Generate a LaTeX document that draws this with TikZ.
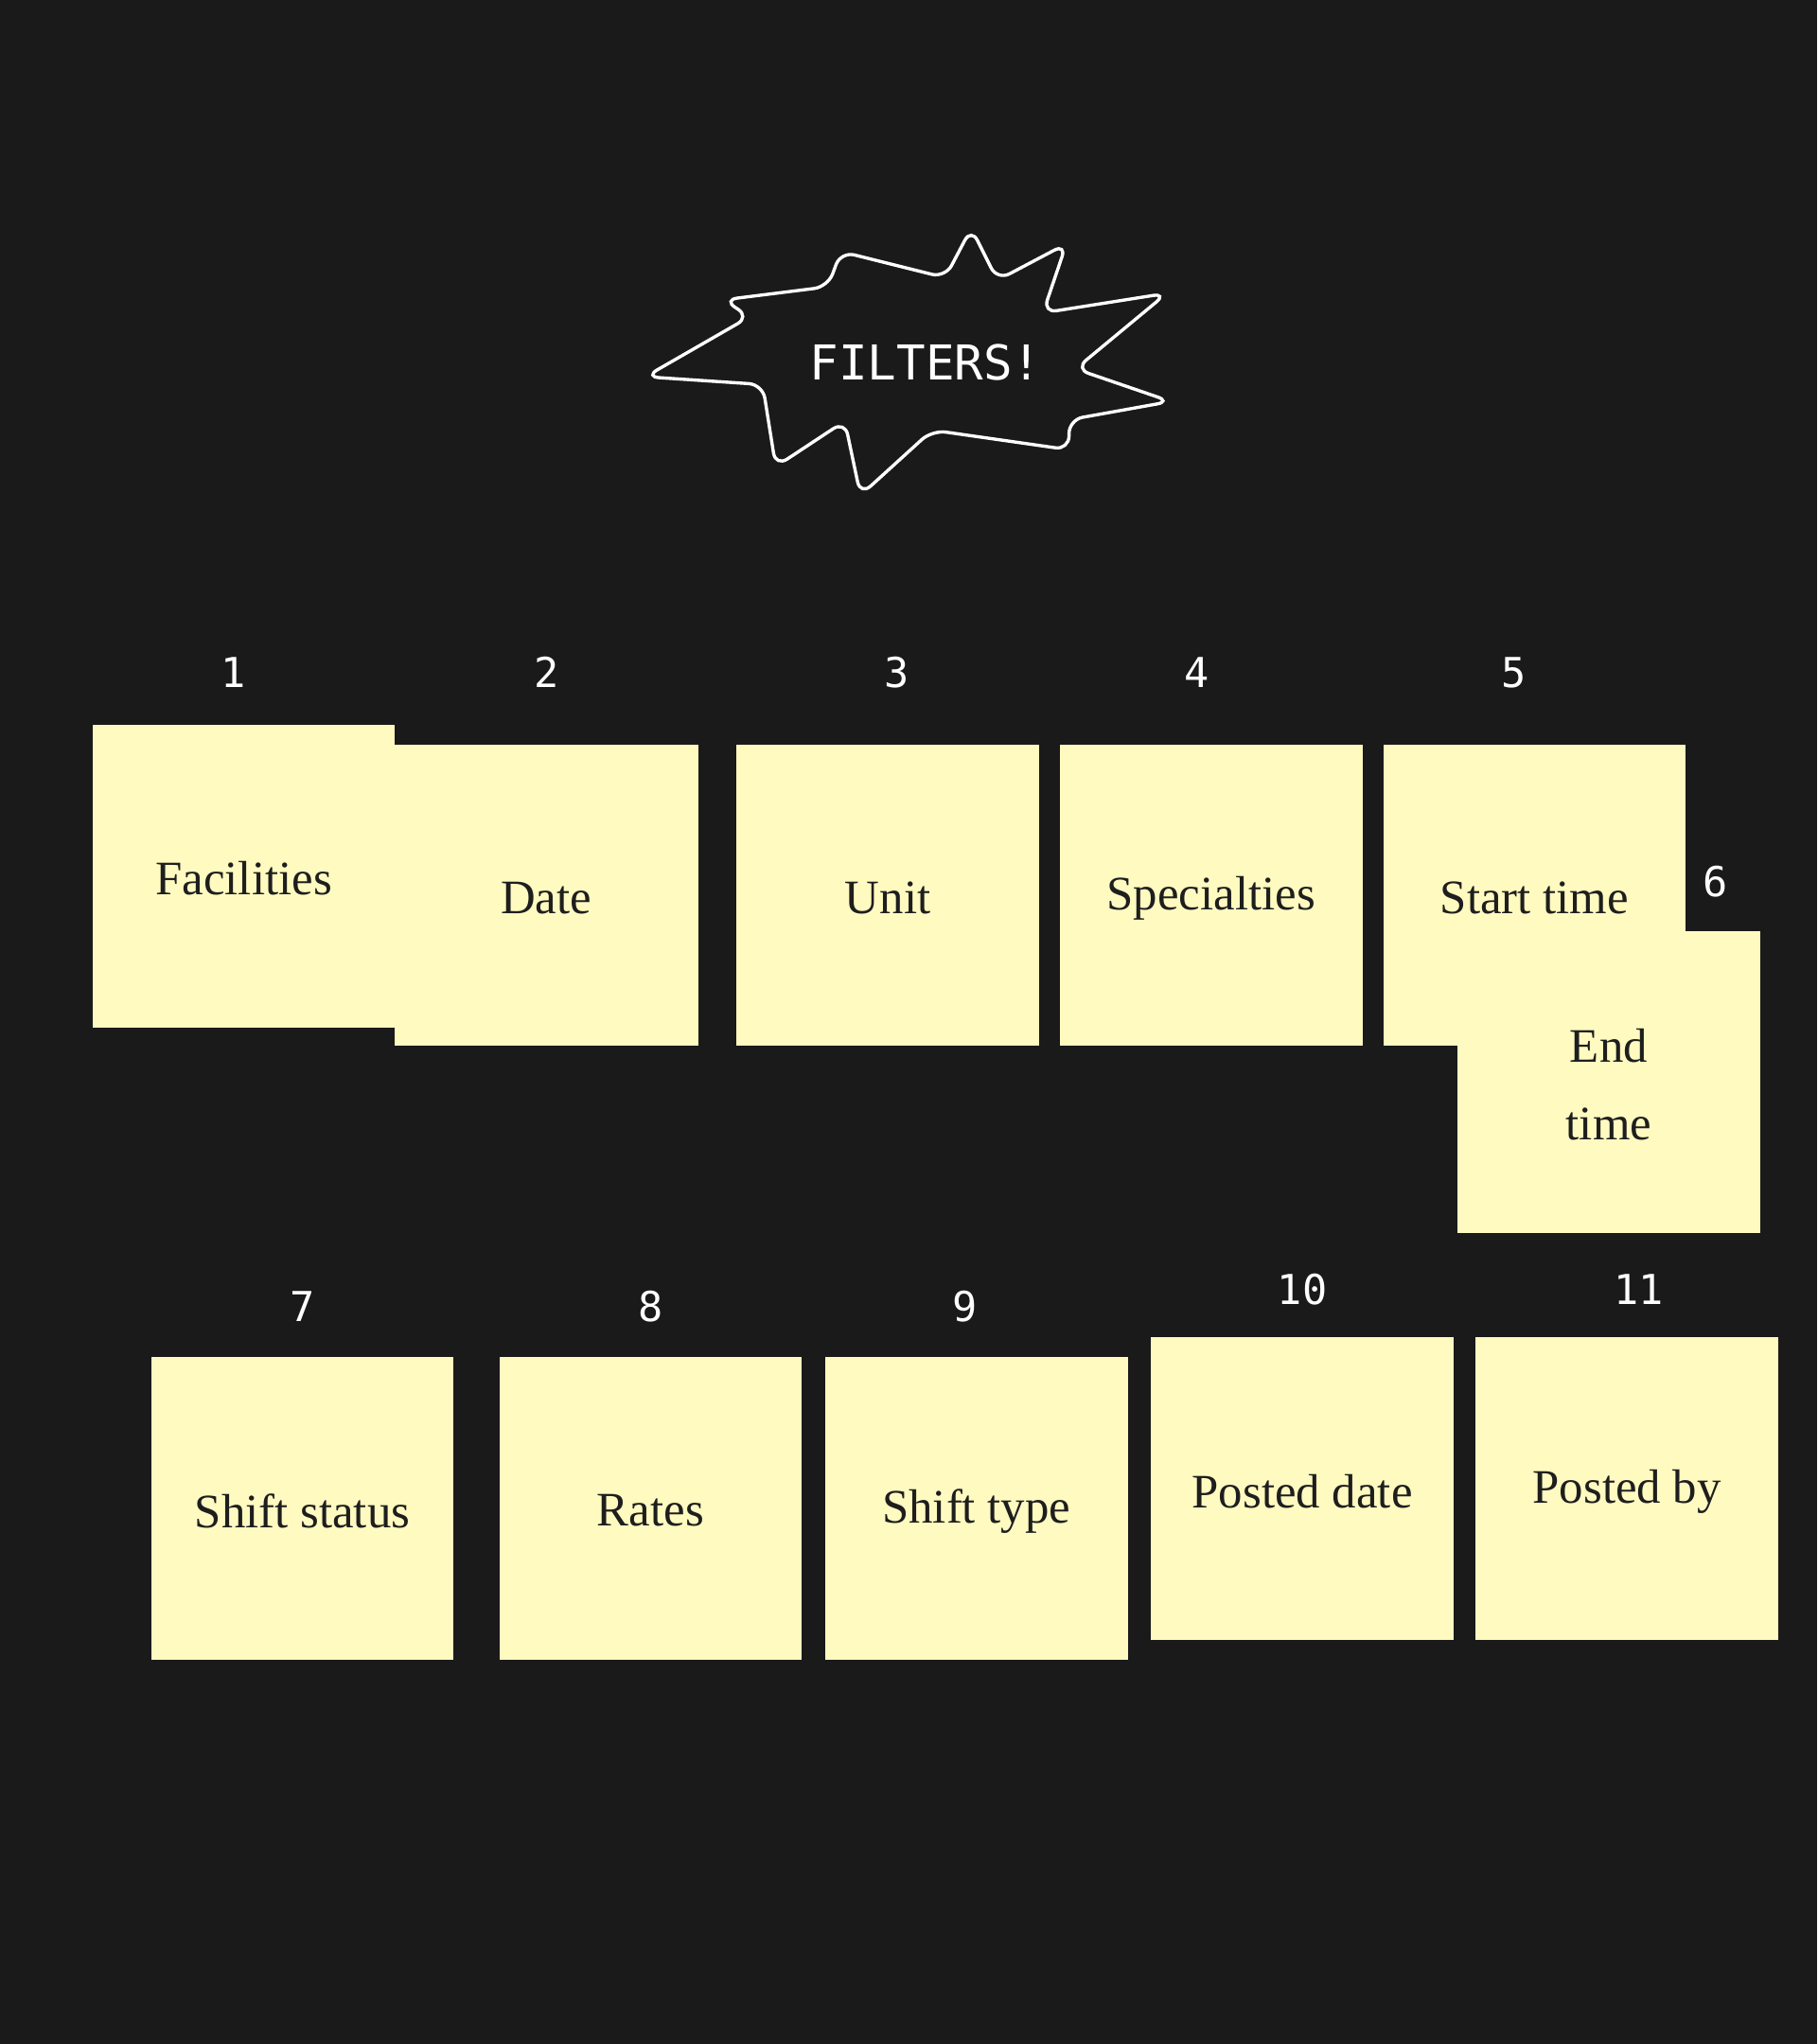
\documentclass[tikz,border=0pt]{standalone}
\usepackage{fontspec}
\setmainfont{Liberation Serif}
\newfontfamily\monofont{DejaVu Sans Mono}
\definecolor{bgcolor}{HTML}{1A1A1A}
\definecolor{stickycolor}{HTML}{FFFAC0}
\definecolor{inkcolor}{HTML}{1E1E1E}
\tikzset{
  sticky/.style={fill=stickycolor, draw=none},
  stickytext/.style={text=inkcolor, font=\fontsize{21}{34}\selectfont, align=center},
  numlabel/.style={text=white, font=\monofont\fontsize{18}{20}\selectfont},
}
\begin{document}
\begin{tikzpicture}[x=0.02cm,y=-0.02cm]
\fill[bgcolor] (0,0) rectangle (1394,1568);
\useasboundingbox (0,0) rectangle (1394,1568);
% burst
\draw[white, line width=1.4pt, rounded corners=6pt] (495,289)--(575,243)--(555,230)--(635,220)--(645,193)--(725,213)--(745,175)--(765,215)--(818,187)--(800,240)--(895,225)--(825,283)--(898,308)--(820,322)--(820,345)--(715,330)--(660,380)--(648,323)--(595,358)--(585,295)--cycle;
\node[text=white, font=\monofont\fontsize{21}{24}\selectfont] (burst) at (710,278) {FILTERS!};
% first row
\fill[sticky] (71,556) rectangle (303,788);
\node[stickytext] (facilities) at (187,674) {Facilities};
\node[numlabel] (n1) at (179,516) {1};
\fill[sticky] (303,571) rectangle (536,802);
\node[stickytext] (date) at (419,689) {Date};
\node[numlabel] (n2) at (419,516) {2};
\fill[sticky] (565,571) rectangle (797,802);
\node[stickytext] (unit) at (681,689) {Unit};
\node[numlabel] (n3) at (688,516) {3};
\fill[sticky] (813,571) rectangle (1045,802);
\node[stickytext] (specialties) at (929,689) {Specialties};
\node[numlabel] (n4) at (918,516) {4};
\fill[sticky] (1061,571) rectangle (1293,802);
\node[stickytext] (starttime) at (1177,689) {Start time};
\node[numlabel] (n5) at (1161,516) {5};
\fill[sticky] (1118,714) rectangle (1350,946);
\node[stickytext] (endtime) at (1234,832) {End\\time};
\node[numlabel] (n6) at (1316,676) {6};
% second row
\fill[sticky] (116,1041) rectangle (348,1273);
\node[stickytext] (shiftstatus) at (232,1159) {Shift status};
\node[numlabel] (n7) at (232,1002) {7};
\fill[sticky] (383,1041) rectangle (615,1273);
\node[stickytext] (rates) at (499,1159) {Rates};
\node[numlabel] (n8) at (499,1002) {8};
\fill[sticky] (633,1041) rectangle (865,1273);
\node[stickytext] (shifttype) at (749,1159) {Shift type};
\node[numlabel] (n9) at (740,1002) {9};
\fill[sticky] (883,1026) rectangle (1115,1258);
\node[stickytext] (posteddate) at (999,1144) {Posted date};
\node[numlabel] (n10) at (999,989) {10};
\fill[sticky] (1132,1026) rectangle (1364,1258);
\node[stickytext] (postedby) at (1248,1144) {Posted by};
\node[numlabel] (n11) at (1257,989) {11};
\end{tikzpicture}
\end{document}
